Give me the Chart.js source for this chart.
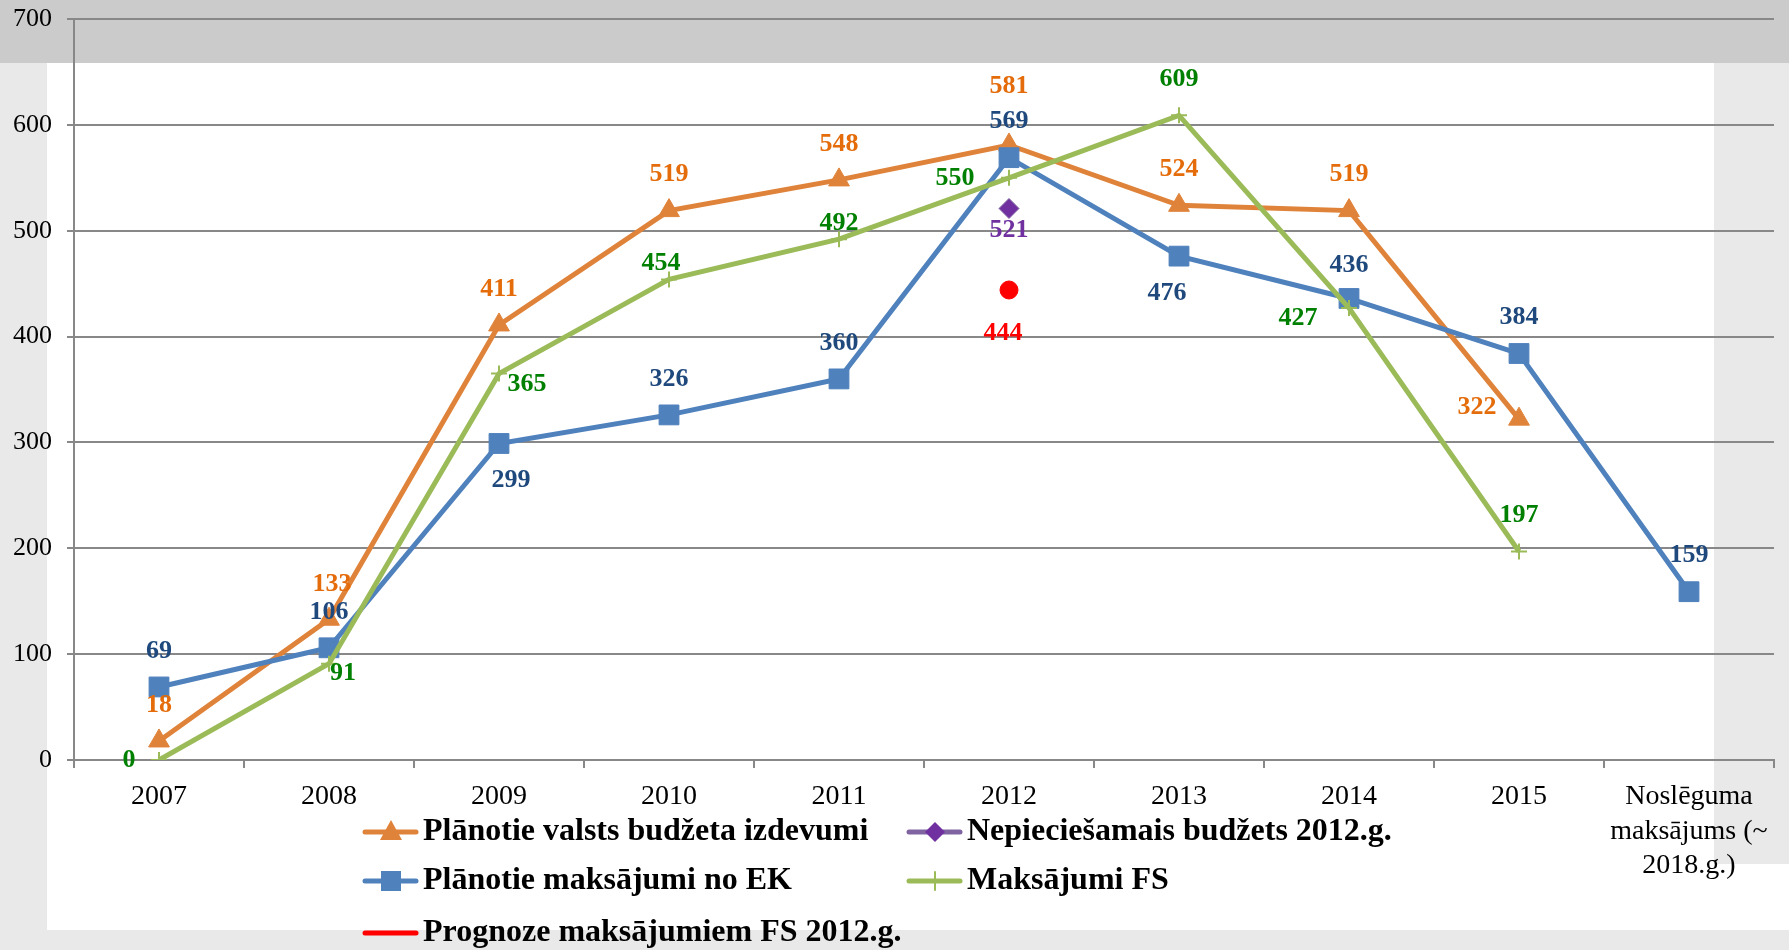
<!DOCTYPE html>
<html lang="lv">

<head>
    <meta charset="UTF-8">
    <title>Maksājumi</title>
    <script src="https://cdn.jsdelivr.net/npm/chart.js"></script>
    <style>
        body {
            margin: 0;
            background: #fff;
            width: 1789px;
            height: 950px;
            position: relative;
            overflow: hidden;
        }

        .band {
            position: absolute;
        }

        .band.top {
            left: 0; top: 0; width: 1789px; height: 63px;
            background: #cbcbcb;
        }

        .band.left {
            left: 0; top: 63px; width: 47px; height: 867px;
            background: #e9e9e9;
        }

        .band.bottom {
            left: 0; top: 930px; width: 1789px; height: 20px;
            background: #e9e9e9;
        }

        .band.right {
            left: 1714px; top: 63px; width: 75px; height: 801px;
            background: #e9e9e9;
        }

        #chart {
            position: absolute;
            left: 0;
            top: 0;
        }
    </style>
</head>

<body>
    <div class="band top"></div>
    <div class="band left"></div>
    <div class="band bottom"></div>
    <div class="band right"></div>
    <canvas id="chart" width="1789" height="950"></canvas>

    <script>
        // Dati
        const categories = ['2007', '2008', '2009', '2010', '2011', '2012', '2013', '2014', '2015',
            ['Noslēguma', 'maksājums (~', '2018.g.)']];
        const budzetaIzdevumi = [18, 133, 411, 519, 548, 581, 524, 519, 322, null];
        const maksajumiNoEK = [69, 106, 299, 326, 360, 569, 476, 436, 384, 159];
        const nepieciesamaisBudzets = [null, null, null, null, null, 521, null, null, null, null];
        const maksajumiFS = [0, 91, 365, 454, 492, 550, 609, 427, 197, null];
        const prognozeFS = [null, null, null, null, null, 444, null, null, null, null];
        const yTicks = [0, 100, 200, 300, 400, 500, 600, 700];

        // kur novietot vērtību uzrakstus (attiecībā pret punktu)
        const labelOffsets = {
            t: [0, -36], T: [0, -59], tr: [3, -35], ts: [-8, -16], tm: [0, -16], t3: [0, -33],
            b: [0, 37], br: [12, 37], bl: [-12, 37], bs: [0, 22], bb: [-6, 43],
            l: [-30, 0], L: [-54, 0], ld: [-51, 10], lu: [-42, -12],
            rd: [14, 10], rd2: [28, 11]
        };
        const orangePos = ['t', 'tr', 't', 't', 't', 'T', 't', 't', 'lu', null];
        const bluePos = ['t', 't', 'br', 't', 't', 't', 'bl', 't3', 't', 't'];
        const greenPos = ['l', 'rd', 'rd2', 'ts', 'tm', 'L', 't', 'ld', 't', null];

        const FONT = "'Liberation Serif', 'Times New Roman', serif";

        const pointLabels = {
            id: 'pointLabels',
            afterDatasetsDraw(chart) {
                const ctx = chart.ctx;
                ctx.save();
                ctx.font = 'bold 26px ' + FONT;
                ctx.textAlign = 'center';
                ctx.textBaseline = 'middle';
                chart.data.datasets.forEach((ds, i) => {
                    const meta = chart.getDatasetMeta(i);
                    meta.data.forEach((pt, j) => {
                        const v = ds.data[j];
                        if (v === null || v === undefined) return;
                        const off = labelOffsets[ds.labelPos[j]] || [0, -36];
                        ctx.fillStyle = ds.labelColor;
                        ctx.fillText(String(v), pt.x + off[0], pt.y + off[1]);
                    });
                });
                ctx.restore();
            }
        };

        // leģenda: divas kolonnas kā oriģinālā
        const legendItems = [
            { ds: 0, col: 0, row: 0 },
            { ds: 2, col: 1, row: 0 },
            { ds: 1, col: 0, row: 1 },
            { ds: 3, col: 1, row: 1 },
            { ds: 4, col: 0, row: 2 }
        ];
        const legendCols = [363, 907];
        const legendRows = [832, 881, 933];

        function marker(ctx, style, color, x, y) {
            ctx.fillStyle = color;
            ctx.strokeStyle = color;
            ctx.beginPath();
            if (style === 'triangle') {
                ctx.moveTo(x, y - 12);
                ctx.lineTo(x + 11, y + 8);
                ctx.lineTo(x - 11, y + 8);
                ctx.closePath();
                ctx.fill();
            } else if (style === 'rect') {
                ctx.rect(x - 10, y - 10, 20, 20);
                ctx.fill();
            } else if (style === 'rectRot') {
                ctx.moveTo(x, y - 10);
                ctx.lineTo(x + 10, y);
                ctx.lineTo(x, y + 10);
                ctx.lineTo(x - 10, y);
                ctx.closePath();
                ctx.fill();
            } else if (style === 'cross') {
                ctx.lineWidth = 2;
                ctx.moveTo(x, y - 9);
                ctx.lineTo(x, y + 9);
                ctx.stroke();
            }
        }

        const customLegend = {
            id: 'customLegend',
            afterDraw(chart) {
                const ctx = chart.ctx;
                ctx.save();
                legendItems.forEach(item => {
                    const ds = chart.data.datasets[item.ds];
                    const x = legendCols[item.col];
                    const y = legendRows[item.row];
                    ctx.strokeStyle = ds.legendLine;
                    ctx.lineWidth = 5;
                    ctx.lineCap = 'round';
                    ctx.beginPath();
                    ctx.moveTo(x + 2, y);
                    ctx.lineTo(x + 53, y);
                    ctx.stroke();
                    if (ds.legendMarker) marker(ctx, ds.legendMarker, ds.pointBackgroundColor, x + 28, y);
                    ctx.fillStyle = '#000';
                    ctx.font = 'bold 32px ' + FONT;
                    ctx.textAlign = 'left';
                    ctx.textBaseline = 'middle';
                    ctx.fillText(ds.label, x + 60, y);
                });
                ctx.restore();
            }
        };

        const gridColor = '#888888';

        new Chart(document.getElementById('chart').getContext('2d'), {
            type: 'line',
            data: {
                labels: categories,
                datasets: [
                    {
                        label: 'Plānotie valsts budžeta izdevumi',
                        data: budzetaIzdevumi,
                        borderColor: '#e0833a',
                        backgroundColor: '#e0833a',
                        pointBackgroundColor: '#e0833a',
                        pointBorderColor: '#e0833a',
                        borderWidth: 5,
                        pointStyle: 'triangle',
                        pointRadius: 12,
                        pointBorderWidth: 1,
                        order: 5,
                        labelColor: '#e46c0a',
                        labelPos: orangePos,
                        legendLine: '#e0833a',
                        legendMarker: 'triangle'
                    },
                    {
                        label: 'Plānotie maksājumi no EK',
                        data: maksajumiNoEK,
                        borderColor: '#4f81bd',
                        backgroundColor: '#4f81bd',
                        pointBackgroundColor: '#4f81bd',
                        pointBorderColor: '#4f81bd',
                        borderWidth: 5,
                        pointStyle: 'rect',
                        pointRadius: 14,
                        pointBorderWidth: 1,
                        order: 4,
                        labelColor: '#1f497d',
                        labelPos: bluePos,
                        legendLine: '#4f81bd',
                        legendMarker: 'rect'
                    },
                    {
                        label: 'Nepieciešamais budžets 2012.g.',
                        data: nepieciesamaisBudzets,
                        showLine: false,
                        borderColor: '#7030a0',
                        backgroundColor: '#7030a0',
                        pointBackgroundColor: '#7030a0',
                        pointBorderColor: '#8064a2',
                        pointStyle: 'rectRot',
                        pointRadius: 10,
                        pointBorderWidth: 1,
                        order: 2,
                        labelColor: '#7030a0',
                        labelPos: [null, null, null, null, null, 'bs', null, null, null, null],
                        legendLine: '#8064a2',
                        legendMarker: 'rectRot'
                    },
                    {
                        label: 'Maksājumi FS',
                        data: maksajumiFS,
                        borderColor: '#9bbb59',
                        backgroundColor: '#9bbb59',
                        pointBackgroundColor: '#9bbb59',
                        pointBorderColor: '#9bbb59',
                        borderWidth: 5,
                        pointStyle: 'cross',
                        pointRadius: 8,
                        pointBorderWidth: 2,
                        order: 3,
                        labelColor: '#008000',
                        labelPos: greenPos,
                        legendLine: '#9bbb59',
                        legendMarker: 'cross'
                    },
                    {
                        label: 'Prognoze maksājumiem FS 2012.g.',
                        data: prognozeFS,
                        showLine: false,
                        borderColor: '#ff0000',
                        backgroundColor: '#ff0000',
                        pointBackgroundColor: '#ff0000',
                        pointBorderColor: '#ff0000',
                        pointStyle: 'circle',
                        pointRadius: 9,
                        pointBorderWidth: 1,
                        order: 1,
                        labelColor: '#ff0000',
                        labelPos: [null, null, null, null, null, 'bb', null, null, null, null],
                        legendLine: '#ff0000',
                        legendMarker: null
                    }
                ]
            },
            options: {
                responsive: false,
                animation: false,
                layout: { padding: { top: 19, right: 11, left: 0, bottom: 0 } },
                plugins: {
                    legend: { display: false },
                    tooltip: { enabled: false }
                },
                scales: {
                    x: {
                        offset: true,
                        grid: {
                            offset: true,
                            drawOnChartArea: false,
                            color: gridColor,
                            lineWidth: 2,
                            tickLength: 8
                        },
                        border: { color: gridColor, width: 2 },
                        ticks: {
                            color: '#000',
                            font: { family: FONT, size: 28, lineHeight: 1.22 },
                            padding: 12,
                            maxRotation: 0,
                            autoSkip: false
                        },
                        afterFit(scale) { scale.height = 190; }
                    },
                    y: {
                        min: 0,
                        max: 700,
                        afterBuildTicks(scale) { scale.ticks = yTicks.map(v => ({ value: v })); },
                        grid: {
                            color: gridColor,
                            lineWidth: 2,
                            tickLength: 7
                        },
                        border: { color: gridColor, width: 2 },
                        ticks: {
                            color: '#000',
                            font: { family: FONT, size: 26 },
                            padding: 15
                        },
                        afterFit(scale) {
                            scale.width = 74;
                            scale.paddingTop = 0;
                            scale.paddingBottom = 0;
                        }
                    }
                }
            },
            plugins: [pointLabels, customLegend]
        });
    </script>
</body>

</html>
